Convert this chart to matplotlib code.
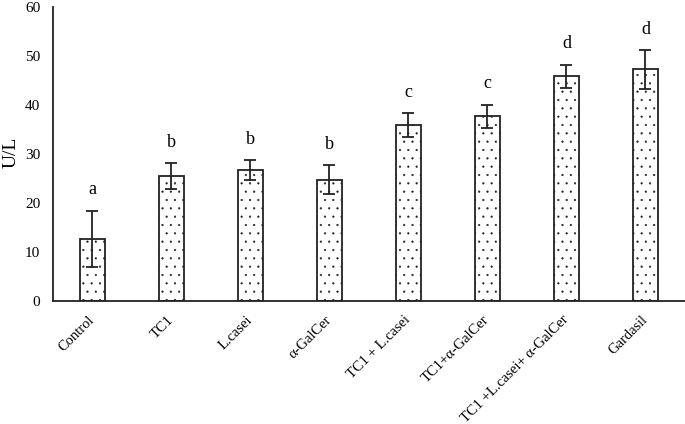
import matplotlib.pyplot as plt
import numpy as np

plt.rcParams['font.family'] = ['Liberation Serif', 'DejaVu Serif']
plt.rcParams['hatch.linewidth'] = 0.35
plt.rcParams['hatch.color'] = '#333333'

groups = ["Control", "TC1", "L.casei", "α-GalCer", "TC1 + L.casei",
          "TC1+α-GalCer", "TC1 +L.casei+ α-GalCer", "Gardasil"]
means = [12.7, 25.5, 26.7, 24.8, 35.9, 37.7, 45.9, 47.3]
errors = [5.7, 2.6, 2.0, 2.9, 2.4, 2.4, 2.4, 3.9]
letters = ["a", "b", "b", "b", "c", "c", "d", "d"]

fig = plt.figure(figsize=(6.85, 4.24), dpi=100)
ax = fig.add_axes([0.077, 0.29, 0.923, 0.693])

x = np.arange(len(groups))
ax.bar(x, means, width=0.32, color='white', edgecolor='#222222',
       linewidth=1.3, hatch='..', zorder=2)
ax.errorbar(x, means, yerr=errors, fmt='none', ecolor='#222222',
            elinewidth=1.3, capsize=4, capthick=1.3, zorder=3)

for xi, m, e, lab in zip(x, means, errors, letters):
    ax.annotate(lab, (xi, m + e), xytext=(0, 9), textcoords='offset points',
                ha='center', va='bottom', fontsize=13)

ax.set_xlim(-0.5, len(groups) - 0.5)
ax.set_ylim(0, 60)
ax.set_yticks(range(0, 61, 10))
ax.set_xticks(x)
ax.set_xticklabels(groups, rotation=45, ha='right', va='center',
                   rotation_mode='anchor', fontsize=10.5)
ax.tick_params(axis='both', length=0)
ax.tick_params(axis='y', labelsize=11, pad=9)
ax.tick_params(axis='x', pad=12)
fig.text(0.016, 0.64, "U/L", rotation=90, fontsize=14, ha='center', va='center')

for s in ['top', 'right']:
    ax.spines[s].set_visible(False)
for s in ['left', 'bottom']:
    ax.spines[s].set_linewidth(1.3)
    ax.spines[s].set_color('#222222')

fig.savefig("out.png", dpi=100)
